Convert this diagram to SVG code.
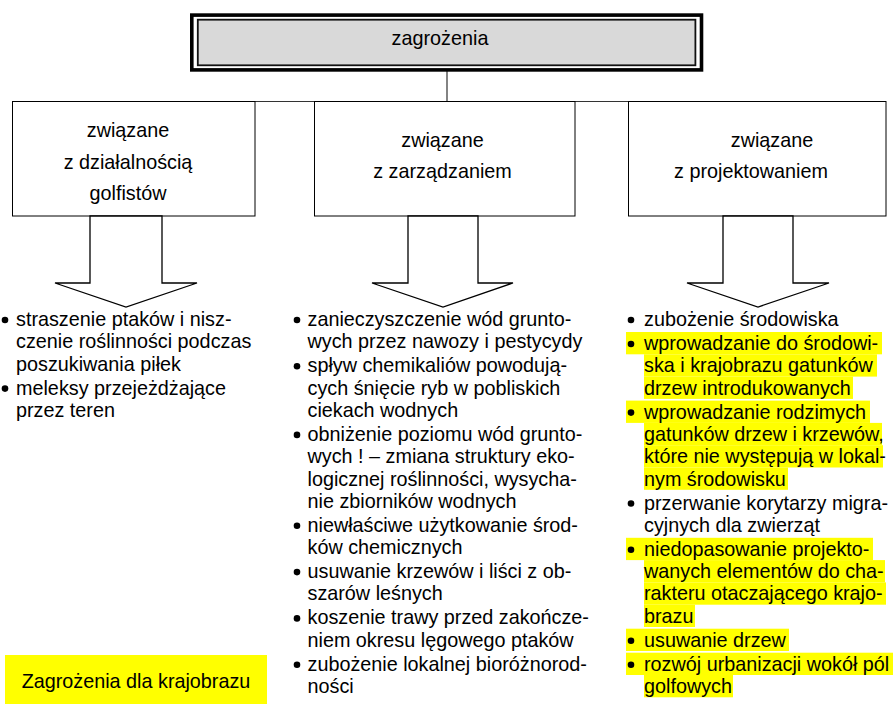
<svg xmlns="http://www.w3.org/2000/svg" width="893" height="704" viewBox="0 0 893 704">
<style>
text{font-family:"Liberation Sans",Arial,sans-serif;font-size:19.8px;fill:#000}
.c{text-anchor:middle}
.box{fill:#fff;stroke:#000;stroke-width:1}
.arr{fill:#fff;stroke:#000;stroke-width:1.3;stroke-linejoin:miter}
.hl{fill:#ffff00}
.bul{fill:#000}
.ln{stroke:#333;stroke-width:1.2;fill:none}
</style>
<rect width="893" height="704" fill="#fff"/>
<g id="connectors">
<path class="ln" d="M447,71 V101.5 M132,101.5 H757"/>
</g>
<g id="node-top">
<rect x="191.8" y="15.1" width="509.7" height="54.8" fill="#fff" stroke="#000" stroke-width="3.6"/>
<rect x="197.8" y="19.7" width="497.6" height="45.6" fill="#d9d9d9" stroke="#111" stroke-width="1.8"/>
<text class="c" x="440" y="45">zagrożenia</text>
</g>
<g id="node-golfisci">
<rect class="box" x="12.5" y="101.5" width="242.5" height="114.5"/>
<text class="c" x="128" y="137">związane</text>
<text class="c" x="128" y="169">z działalnością</text>
<text class="c" x="128" y="200">golfistów</text>
<polygon class="arr" points="90,216 162,216 162,283 197,283 126,307 55,283 90,283"/>
</g>
<g id="node-zarzadzanie">
<rect class="box" x="314.5" y="101.5" width="260.5" height="114.5"/>
<text class="c" x="442.5" y="147">związane</text>
<text class="c" x="442.5" y="178">z zarządzaniem</text>
<polygon class="arr" points="408,216 478,216 478,283 513,283 443,307 372,283 408,283"/>
</g>
<g id="node-projektowanie">
<rect class="box" x="628.5" y="101.5" width="257.5" height="114.5"/>
<text class="c" x="772" y="147">związane</text>
<text class="c" x="751" y="178">z projektowaniem</text>
<polygon class="arr" points="723,216 793,216 793,283 829,283 758,307 687,283 723,283"/>
</g>
<g id="list-golfisci">
<circle class="bul" cx="5" cy="320" r="3.3"/>
<text x="16" y="326">straszenie ptaków i nisz-</text>
<text x="16" y="348.3">czenie roślinności podczas</text>
<text x="16" y="370.6">poszukiwania piłek</text>
<circle class="bul" cx="5" cy="388.6" r="3.3"/>
<text x="16" y="394.6">meleksy przejeżdżające</text>
<text x="16" y="416.9">przez teren</text>
</g>
<g id="list-zarzadzanie">
<circle class="bul" cx="297" cy="320" r="3.3"/>
<text x="307.5" y="326">zanieczyszczenie wód grunto-</text>
<text x="307.5" y="348.3">wych przez nawozy i pestycydy</text>
<circle class="bul" cx="297" cy="366.3" r="3.3"/>
<text x="307.5" y="372.3">spływ chemikaliów powodują-</text>
<text x="307.5" y="394.6">cych śnięcie ryb w pobliskich</text>
<text x="307.5" y="416.9">ciekach wodnych</text>
<circle class="bul" cx="297" cy="434.9" r="3.3"/>
<text x="307.5" y="440.9">obniżenie poziomu wód grunto-</text>
<text x="307.5" y="463.2">wych ! – zmiana struktury eko-</text>
<text x="307.5" y="485.5">logicznej roślinności, wysycha-</text>
<text x="307.5" y="507.8">nie zbiorników wodnych</text>
<circle class="bul" cx="297" cy="525.8" r="3.3"/>
<text x="307.5" y="531.8">niewłaściwe użytkowanie środ-</text>
<text x="307.5" y="554.1">ków chemicznych</text>
<circle class="bul" cx="297" cy="572.1" r="3.3"/>
<text x="307.5" y="578.1">usuwanie krzewów i liści z ob-</text>
<text x="307.5" y="600.4">szarów leśnych</text>
<circle class="bul" cx="297" cy="618.4" r="3.3"/>
<text x="307.5" y="624.4">koszenie trawy przed zakończe-</text>
<text x="307.5" y="646.7">niem okresu lęgowego ptaków</text>
<circle class="bul" cx="297" cy="664.7" r="3.3"/>
<text x="307.5" y="670.7">zubożenie lokalnej bioróżnorod-</text>
<text x="307.5" y="693">ności</text>
</g>
<g id="list-projektowanie">
<rect class="hl" x="626" y="332" width="256" height="22.3"/>
<rect class="hl" x="644" y="354.3" width="233" height="22.3"/>
<rect class="hl" x="644" y="376.6" width="209" height="22.3"/>
<rect class="hl" x="626" y="400.6" width="244" height="22.3"/>
<rect class="hl" x="644" y="422.9" width="238" height="22.3"/>
<rect class="hl" x="644" y="445.2" width="239" height="22.3"/>
<rect class="hl" x="644" y="467.5" width="144" height="22.3"/>
<rect class="hl" x="626" y="537.8" width="247" height="22.3"/>
<rect class="hl" x="644" y="560.1" width="241" height="22.3"/>
<rect class="hl" x="644" y="582.4" width="242" height="22.3"/>
<rect class="hl" x="644" y="604.7" width="51" height="22.3"/>
<rect class="hl" x="626" y="628.7" width="163" height="22.3"/>
<rect class="hl" x="626" y="652.7" width="267" height="22.3"/>
<rect class="hl" x="644" y="675" width="89" height="22.3"/>
<circle class="bul" cx="631" cy="320" r="3.3"/>
<text x="644" y="326">zubożenie środowiska</text>
<circle class="bul" cx="631" cy="344" r="3.3"/>
<text x="644" y="350">wprowadzanie do środowi-</text>
<text x="644" y="372.3">ska i krajobrazu gatunków</text>
<text x="644" y="394.6">drzew introdukowanych</text>
<circle class="bul" cx="631" cy="412.6" r="3.3"/>
<text x="644" y="418.6">wprowadzanie rodzimych</text>
<text x="644" y="440.9">gatunków drzew i krzewów,</text>
<text x="644" y="463.2">które nie występują w lokal-</text>
<text x="644" y="485.5">nym środowisku</text>
<circle class="bul" cx="631" cy="503.5" r="3.3"/>
<text x="644" y="509.5">przerwanie korytarzy migra-</text>
<text x="644" y="531.8">cyjnych dla zwierząt</text>
<circle class="bul" cx="631" cy="549.8" r="3.3"/>
<text x="644" y="555.8">niedopasowanie projekto-</text>
<text x="644" y="578.1">wanych elementów do cha-</text>
<text x="644" y="600.4">rakteru otaczającego krajo-</text>
<text x="644" y="622.7">brazu</text>
<circle class="bul" cx="631" cy="640.7" r="3.3"/>
<text x="644" y="646.7">usuwanie drzew</text>
<circle class="bul" cx="631" cy="664.7" r="3.3"/>
<text x="644" y="670.7">rozwój urbanizacji wokół pól</text>
<text x="644" y="693">golfowych</text>
</g>
<g id="label">
<rect class="hl" x="5" y="655" width="262" height="49"/>
<text class="c" x="136" y="688">Zagrożenia dla krajobrazu</text>
</g>
</svg>
